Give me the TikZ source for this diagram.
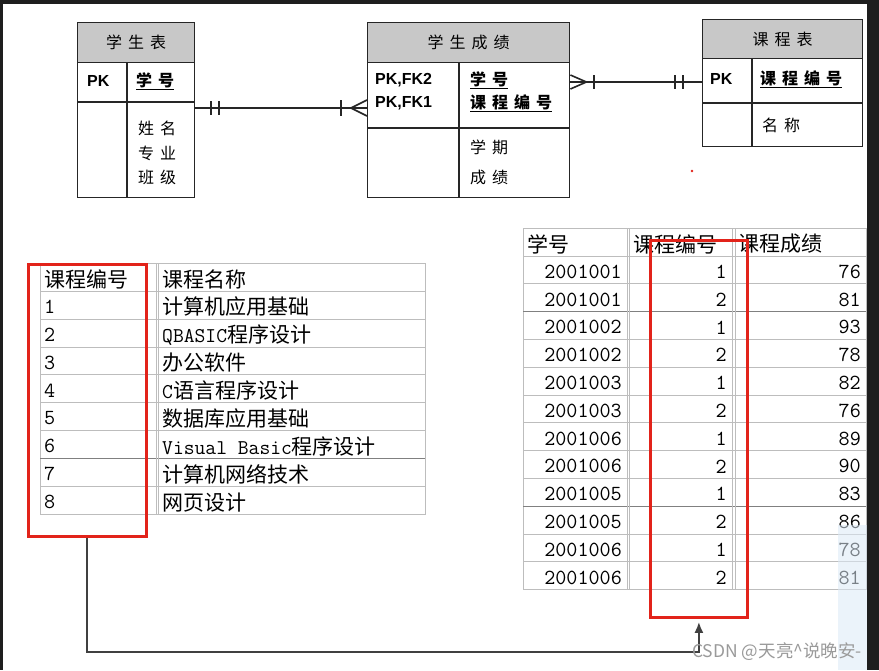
\documentclass[tikz,border=0pt]{standalone}
\usepackage{fontspec}
\newfontfamily\cjk{Noto Sans CJK SC}
\newfontfamily\pkfont{Liberation Sans}
\usetikzlibrary{arrows.meta,positioning}

\definecolor{framegray}{HTML}{1E1E1E}
\definecolor{headgray}{HTML}{C8C8C8}
\definecolor{gridgray}{HTML}{BDBDBD}
\definecolor{boxred}{HTML}{E2231A}
\definecolor{wmgray}{HTML}{9A9A9A}
\definecolor{stripblue}{HTML}{DCEAF7}

\newcommand\ersp{\hspace{6pt}}
\newcommand\lat[1]{{\ttfamily #1}}

\begin{document}
\begin{tikzpicture}[
    x=1pt, y=-1pt,
    erbox/.style   = {draw=black!85, line width=1.4pt, inner sep=0, anchor=north west},
    erhead/.style  = {erbox, fill=headgray, font=\cjk\fontsize{16}{16}\selectfont},
    erline/.style  = {black!85, line width=1.4pt},
    ertxt/.style   = {font=\cjk\fontsize{16}{24.5}\selectfont, inner sep=0,
                      anchor=west, align=left},
    keytxt/.style  = {ertxt, font=\cjk\bfseries\fontsize{16}{23}\selectfont},
    pk/.style      = {font=\pkfont\bfseries\fontsize{16}{23}\selectfont, inner sep=0,
                      anchor=west, align=left},
    rel/.style     = {black!85, line width=2pt},
    tabline/.style = {draw=gridgray, line width=1pt},
    tabdark/.style = {draw=gray, line width=1.3pt},
    cell/.style    = {font=\cjk\fontsize{21}{21}\selectfont, inner sep=0, anchor=west},
    numl/.style    = {font=\ttfamily\fontsize{21.5}{21.5}\selectfont, inner sep=0, anchor=west},
    numr/.style    = {font=\ttfamily\fontsize{21.5}{21.5}\selectfont, inner sep=0, anchor=east},
    redbox/.style  = {draw=boxred, line width=2.8pt, inner sep=0, anchor=north west},
    link/.style    = {black!75, line width=2pt},
]

%% -- frame ----------------------------------------------------------------
\fill[framegray] (0,0) rectangle (879,670);
\fill[white] (3,4) rectangle (867,670);

%% -- ER: 学生表 -------------------------------------------------------------
\node[erbox, minimum width=117pt, minimum height=175pt] (stu) at (77,22) {};
\node[erhead, minimum width=117pt, minimum height=40pt] (stuHead) at (77,22)
  {学\ersp 生\ersp 表};
\draw[erline] (77,102) -- (194,102);
\draw[erline] (127,62) -- (127,197);
\node[pk] (stuPk) at (87,81) {PK};
\node[keytxt] (stuKey) at (136,81) {\underline{学\ersp 号}};
\node[ertxt] (stuAttr) at (138,153) {姓\ersp 名\\专\ersp 业\\班\ersp 级};

%% -- ER: 学生成绩 -----------------------------------------------------------
\node[erbox, minimum width=202pt, minimum height=175pt] (sc) at (367,22) {};
\node[erhead, minimum width=202pt, minimum height=40pt] (scHead) at (367,22)
  {学\ersp 生\ersp 成\ersp 绩};
\draw[erline] (367,128) -- (569,128);
\draw[erline] (459,62) -- (459,197);
\node[pk] (scPk) at (375,92) {PK,FK2\\PK,FK1};
\node[keytxt] (scKey) at (470,92)
  {\underline{学\ersp 号}\\\underline{课\ersp 程\ersp 编\ersp 号}};
\node[ertxt, font=\cjk\fontsize{16}{30}\selectfont] (scAttr) at (470,162)
  {学\ersp 期\\成\ersp 绩};

%% -- ER: 课程表 -------------------------------------------------------------
\node[erbox, minimum width=160pt, minimum height=127pt] (crs) at (702,19) {};
\node[erhead, minimum width=160pt, minimum height=39pt] (crsHead) at (702,19)
  {课\ersp 程\ersp 表};
\draw[erline] (702,103) -- (862,103);
\draw[erline] (752,58) -- (752,146);
\node[pk] (crsPk) at (710,79) {PK};
\node[keytxt] (crsKey) at (760,79) {\underline{课\ersp 程\ersp 编\ersp 号}};
\node[ertxt] (crsAttr) at (762,125) {名\ersp 称};

%% -- ER relations ----------------------------------------------------------
\coordinate (r1a) at (stu.east |- 0,108);
\coordinate (r1b) at (sc.west |- 0,108);
\draw[rel] (r1a) -- (r1b);
\draw[rel] ([xshift=16pt,yshift=7pt]r1a) -- ([xshift=16pt,yshift=-7pt]r1a);
\draw[rel] ([xshift=24pt,yshift=7pt]r1a) -- ([xshift=24pt,yshift=-7pt]r1a);
\draw[rel] ([xshift=-26pt,yshift=8pt]r1b) -- ([xshift=-26pt,yshift=-8pt]r1b);
\draw[rel, line width=1.6pt] ([yshift=8pt]r1b) -- ([xshift=-16pt]r1b) -- ([yshift=-8pt]r1b);

\coordinate (r2a) at (sc.east |- 0,82);
\coordinate (r2b) at (crs.west |- 0,82);
\draw[rel] (r2a) -- (r2b);
\draw[rel, line width=1.6pt] ([yshift=7pt]r2a) -- ([xshift=16pt]r2a) -- ([yshift=-7pt]r2a);
\draw[rel] ([xshift=24pt,yshift=7pt]r2a) -- ([xshift=24pt,yshift=-7pt]r2a);
\draw[rel] ([xshift=-27pt,yshift=7pt]r2b) -- ([xshift=-27pt,yshift=-7pt]r2b);
\draw[rel] ([xshift=-19pt,yshift=7pt]r2b) -- ([xshift=-19pt,yshift=-7pt]r2b);

\fill[boxred] (692,171) circle (1.3);

%% -- 课程 table (left) ------------------------------------------------------
\draw[tabline] (40,263.3) rectangle (425,514.4);
\foreach \i in {1,...,8}
  \draw[tabline] (40,{263.3+27.9*\i}) -- (425,{263.3+27.9*\i});
\draw[tabdark] (40,{263.3+27.9*7}) -- (425,{263.3+27.9*7});
\draw[tabline] (156.7,263.3) -- (156.7,514.4);
\draw[tabline] (158.7,263.3) -- (158.7,514.4);

\node[cell] (cnHead) at (44,279) {课程编号};
\node[cell] (nmHead) at (162,279) {课程名称};
\foreach \n/\t [count=\i] in {1/计算机应用基础, 2/\lat{QBASIC}程序设计, 3/办公软件,
    4/\lat{C}语言程序设计, 5/数据库应用基础, 6/\lat{Visual Basic}程序设计,
    7/计算机网络技术, 8/网页设计} {
  \node[numl] (cn\i) at (44,{279+27.9*\i}) {\n};
  \node[cell] (nm\i) at (162,{279+27.9*\i}) {\t};
}

%% -- 成绩 table (right) -----------------------------------------------------
\draw[tabline] (523,228.3) rectangle (866,589.7);
\foreach \i in {1,...,12}
  \draw[tabline] (523,{228.3+27.8*\i}) -- (866,{228.3+27.8*\i});
\draw[tabdark] (523,{228.3+27.8*3}) -- (866,{228.3+27.8*3});
\draw[tabdark] (523,{228.3+27.8*10}) -- (866,{228.3+27.8*10});
\foreach \x in {627.3,629.3,732.7,735.3}
  \draw[tabline] (\x,228.3) -- (\x,589.7);

\node[cell] (hdNo)    at (527,244) {学号};
\node[cell] (hdCid)   at (633,244) {课程编号};
\node[cell] (hdGrade) at (738,244) {课程成绩};
\foreach \s/\c/\g [count=\i] in {2001001/1/76, 2001001/2/81, 2001002/1/93,
    2001002/2/78, 2001003/1/82, 2001003/2/76, 2001006/1/89, 2001006/2/90,
    2001005/1/83, 2001005/2/86, 2001006/1/78, 2001006/2/81} {
  \node[numr] (sn\i) at (622,{244+27.8*\i}) {\s};
  \node[numr] (ci\i) at (727,{244+27.8*\i}) {\c};
  \node[numr] (gr\i) at (861,{244+27.8*\i}) {\g};
}

%% -- red marks and link ----------------------------------------------------
\node[redbox, minimum width=118pt, minimum height=272pt] (redA) at (27,263) {};
\node[redbox, minimum width=97pt, minimum height=377pt] (redB) at (649,239) {};

\coordinate (turn) at (redB.south |- 0,652);
\draw[link, -{Latex[length=11pt,width=9pt]}] (redA.south) |- (turn)
  -- ([yshift=-3pt]redB.south);

\fill[stripblue, opacity=0.55] (838,525) rectangle (867,670);

\node[font=\cjk\fontsize{17.5}{17.5}\selectfont, text=wmgray, inner sep=0,
      anchor=east] (wm) at (862,652) {CSDN @天亮\textasciicircum 说晚安-};

\end{tikzpicture}
\end{document}
